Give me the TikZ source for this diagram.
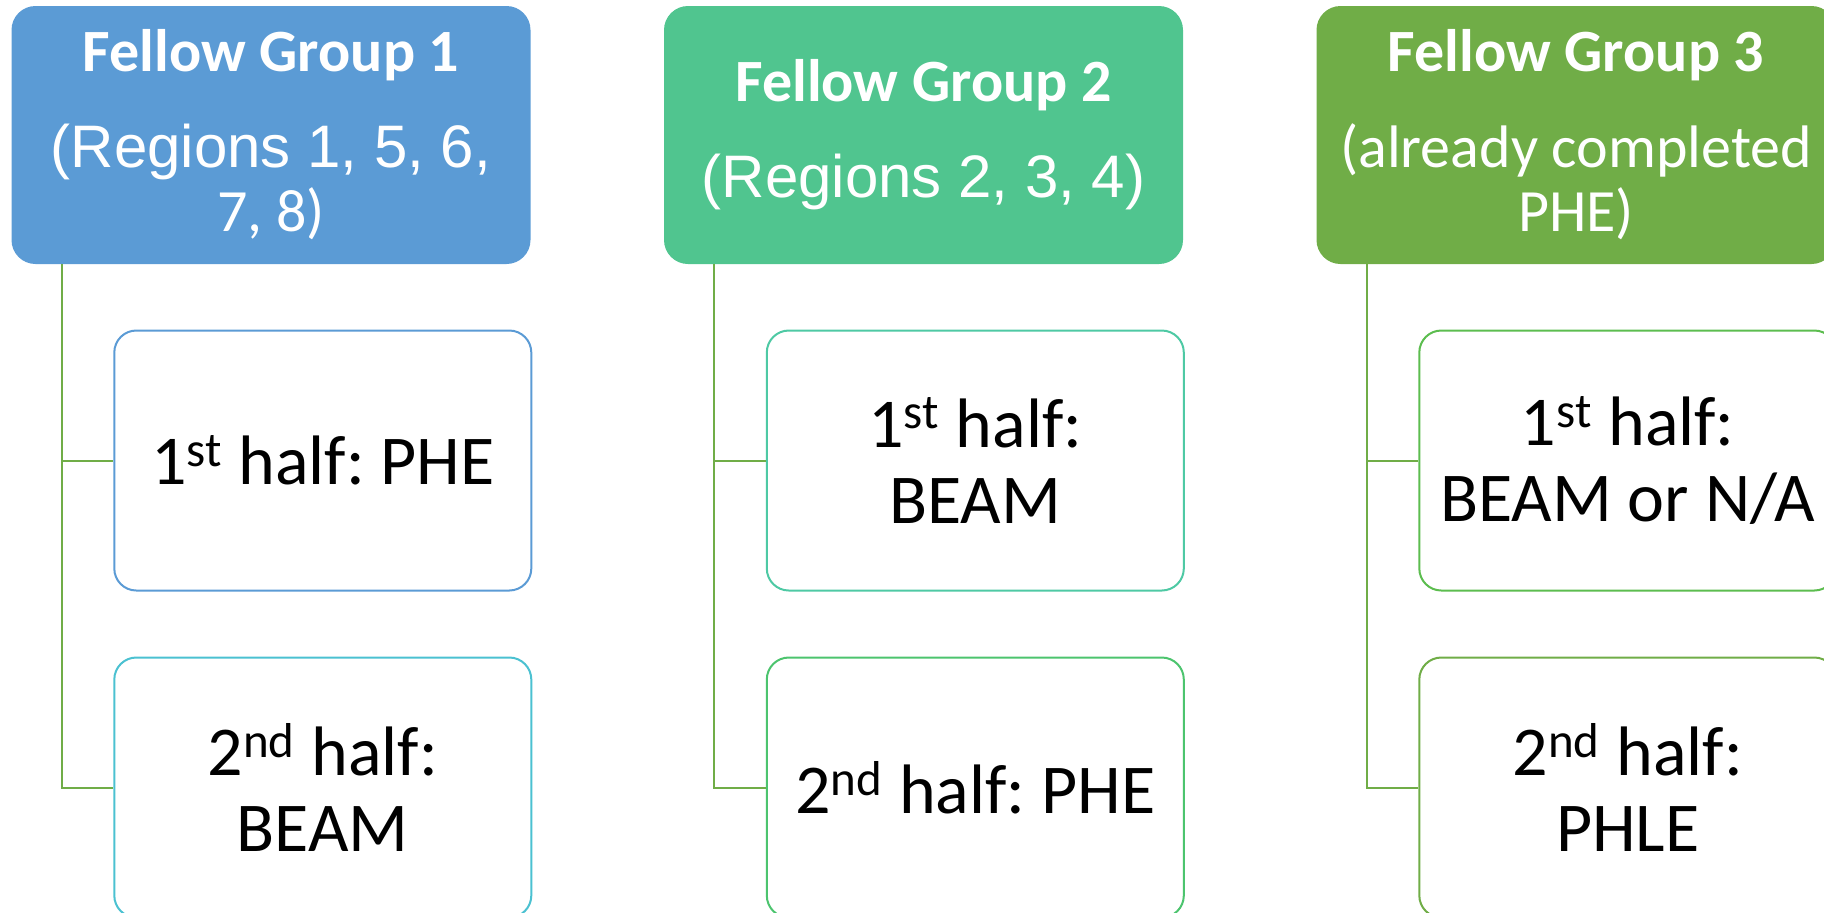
\documentclass[tikz,border=0pt]{standalone}
\usepackage{fontspec}
\setmainfont{Carlito}
\newfontfamily\arialf{Liberation Sans}
\frenchspacing
\definecolor{gA}{HTML}{5B9BD5}
\definecolor{gB}{HTML}{50C58F}
\definecolor{gC}{HTML}{70AD47}
\definecolor{cA1}{HTML}{5B9BD5}
\definecolor{cA2}{HTML}{4BC1D1}
\definecolor{cB1}{HTML}{4EC9A4}
\definecolor{cB2}{HTML}{4CC46E}
\definecolor{cC1}{HTML}{5CBD4F}
\definecolor{cC2}{HTML}{70AD47}
\definecolor{lineC}{HTML}{70AD47}
\tikzset{
  topbox/.style={rectangle, rounded corners=12pt, draw=none, outer sep=0pt,
    minimum width=259.5pt, minimum height=129pt, text=white, align=center,
    inner sep=0pt, font=\fontsize{30}{32}\selectfont},
  childbox/.style={rectangle, rounded corners=11pt, line width=1pt, fill=white,
    minimum width=208.5pt, minimum height=130pt, text=black, align=center,
    inner sep=0pt, font=\fontsize{35}{38}\selectfont},
  conn/.style={draw=lineC, line width=1pt},
}
\begin{document}
\begin{tikzpicture}[x=0.5pt,y=-0.5pt]
\useasboundingbox (0,0) rectangle (1824,912);
\clip (0,0) rectangle (1824,912);
% top boxes
\node[topbox, fill=gA] (g1) at (271,135)
  {\bfseries Fellow Group 1\\[16pt]\mdseries\arialf (Regions 1, 5, 6,\\ 7, 8)};
\node[topbox, fill=gB] (g2) at (923.5,135)
  {\bfseries Fellow Group 2\\[16pt]\mdseries\arialf (Regions 2, 3, 4)};
\node[topbox, fill=gC] (g3) at (1576,135)
  {\bfseries Fellow Group 3\\[16pt]\mdseries (already completed\\ PHE)};
% children
\node[childbox, draw=cA1] (g1a) at (322.8,460.5) {1\textsuperscript{st} half: PHE};
\node[childbox, draw=cA2] (g1b) at (322.8,787.5) {2\textsuperscript{nd} half:\\ BEAM};
\node[childbox, draw=cB1] (g2a) at (975.3,460.5) {1\textsuperscript{st} half:\\ BEAM};
\node[childbox, draw=cB2] (g2b) at (975.3,787.5) {2\textsuperscript{nd} half: PHE};
\node[childbox, draw=cC1] (g3a) at (1627.8,460.5) {1\textsuperscript{st} half:\\ BEAM or N/A};
\node[childbox, draw=cC2] (g3b) at (1627.8,787.5) {2\textsuperscript{nd} half:\\ PHLE};
% connectors
\draw[conn] (g1.south west) ++(50,0) |- (g1b.west);
\draw[conn] (g1.south west) ++(50,0) |- (g1a.west);
\draw[conn] (g2.south west) ++(50,0) |- (g2b.west);
\draw[conn] (g2.south west) ++(50,0) |- (g2a.west);
\draw[conn] (g3.south west) ++(50,0) |- (g3b.west);
\draw[conn] (g3.south west) ++(50,0) |- (g3a.west);
\end{tikzpicture}
\end{document}
